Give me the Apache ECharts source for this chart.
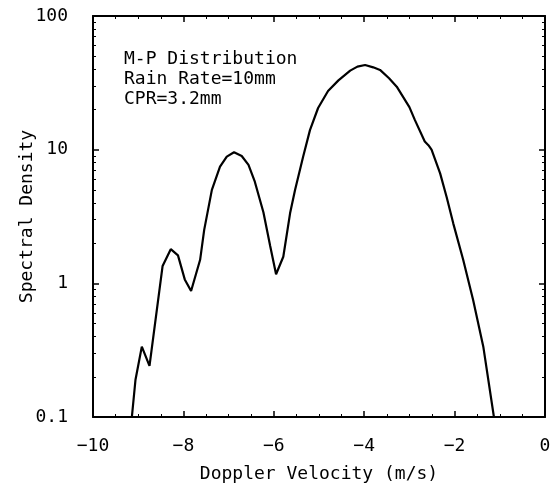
<!DOCTYPE html>
<html>
<head>
<meta charset="utf-8">
<script src="https://cdn.jsdelivr.net/npm/echarts@6/dist/echarts.min.js"></script>
<style>html,body{margin:0;padding:0;background:#fff;}#c{width:556px;height:497px;}</style>
</head>
<body>
<div id="c"></div>
<script>
// Doppler velocity (m/s)
var velocity = [-9.14, -9.06, -8.92, -8.75, -8.46, -8.28, -8.12, -7.97, -7.83, -7.63, -7.54, -7.37, -7.19, -7.04, -6.88, -6.71, -6.56, -6.42, -6.23, -6.08, -5.95, -5.79, -5.64, -5.53, -5.35, -5.2, -5.02, -4.8, -4.57, -4.31, -4.15, -3.98, -3.8, -3.65, -3.45, -3.28, -3.0, -2.88, -2.66, -2.58, -2.51, -2.32, -2.175, -2.03, -1.81, -1.59, -1.365, -1.13];
// Spectral density
var density = [0.1, 0.19, 0.336, 0.241, 1.35, 1.8, 1.62, 1.07, 0.877, 1.5, 2.51, 5.0, 7.46, 8.87, 9.56, 8.97, 7.7, 5.76, 3.4, 1.9, 1.17, 1.58, 3.34, 5.0, 8.9, 14.0, 20.5, 27.5, 33.0, 39.0, 41.8, 43.0, 41.3, 39.5, 34.2, 29.6, 20.8, 16.7, 11.5, 10.8, 10.0, 6.65, 4.4, 2.81, 1.5, 0.75, 0.336, 0.1];
var xTicks = [-10, -8, -6, -4, -2, 0];
var yTicks = [0.1, 1, 10, 100];
var yMinorTicks = [0.2,0.3,0.4,0.5,0.6,0.7,0.8,0.9,2,3,4,5,6,7,8,9,20,30,40,50,60,70,80,90];
var annotation = ['M-P Distribution', 'Rain Rate=10mm', 'CPR=3.2mm'];
var xName = 'Doppler Velocity (m/s)';
var yName = 'Spectral Density';

var FONT = 'DejaVu Sans Mono';
var chart = echarts.init(document.getElementById('c'), null, {renderer: 'canvas'});
var grid = {left: 93, top: 16, right: 11, bottom: 80, containLabel: false, outerBoundsMode: 'none'};
function xAxisBase(pos, show) {
  return {
    type: 'value', position: pos, min: -10, max: 0, interval: 2,
    axisLine: {show: true, onZero: false, lineStyle: {color: '#000', width: 2}},
    axisTick: {show: true, inside: true, length: 6, lineStyle: {color: '#000', width: 1.5}},
    minorTick: {show: true, splitNumber: 4, length: 3, lineStyle: {color: '#000', width: 1}},
    axisLabel: show ? {show: true, margin: 20, fontFamily: FONT, fontSize: 18, color: '#000',
      customValues: xTicks,
      formatter: function (v) { return String(v).replace('-', '\u2212'); }} : {show: false},
    splitLine: {show: false}
  };
}
function yAxisBase(pos, major, labels) {
  return {
    type: 'log', logBase: 10, position: pos, min: 0.1, max: 100,
    axisLine: {show: major, onZero: false, lineStyle: {color: '#000', width: 2}},
    axisTick: {show: true, inside: true, length: major ? 6 : 3,
      customValues: major ? yTicks : yMinorTicks, lineStyle: {color: '#000', width: major ? 1.5 : 1}},
    axisLabel: labels ? {show: true, margin: 25, fontFamily: FONT, fontSize: 18, color: '#000',
      customValues: yTicks,
      formatter: function (v) { return String(v); }} : {show: false},
    splitLine: {show: false}
  };
}
var xb = xAxisBase('bottom', true);
xb.name = xName; xb.nameLocation = 'middle'; xb.nameGap = 48; xb.nameMoveOverlap = false;
xb.nameTextStyle = {fontFamily: FONT, fontSize: 18, color: '#000'};
var yl = yAxisBase('left', true, true);
yl.name = yName; yl.nameLocation = 'middle'; yl.nameGap = 57; yl.nameMoveOverlap = false;
yl.nameTextStyle = {fontFamily: FONT, fontSize: 18, color: '#000'};

chart.setOption({
  animation: false,
  backgroundColor: '#fff',
  grid: grid,
  xAxis: [xb, xAxisBase('top', false)],
  yAxis: [yl, yAxisBase('left', false, false), yAxisBase('right', true, false), yAxisBase('right', false, false)],
  graphic: [{
    type: 'text', left: 124, top: 49,
    style: {text: annotation.join('\n'), font: '18px "' + FONT + '"', lineHeight: 20, fill: '#000'}
  }],
  series: [{
    type: 'line', xAxisIndex: 0, yAxisIndex: 0,
    data: velocity.map(function (v, i) { return [v, density[i]]; }),
    showSymbol: false, smooth: false,
    lineStyle: {color: '#000', width: 2.2},
    clip: true
  }]
});
</script>
</body>
</html>
